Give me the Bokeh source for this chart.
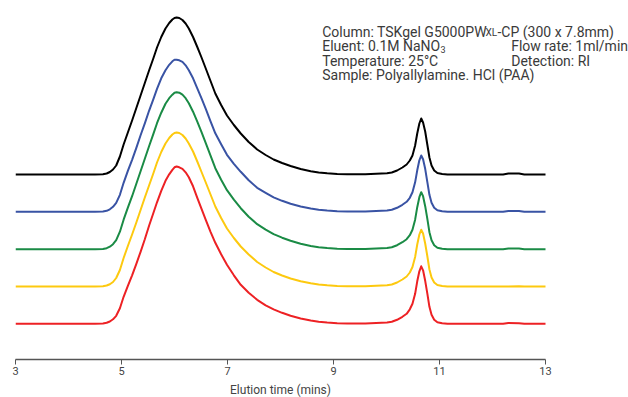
from bokeh.plotting import figure
from bokeh.models import Range1d, FixedTicker, Label
from bokeh.layouts import column
from bokeh.core.properties import value
from bokeh.embed import file_html
from bokeh.resources import INLINE

# ---- data ----
elution_min = [3.0, 4.50, 4.65, 4.72, 4.78, 4.84, 4.90, 4.97, 5.04, 5.12, 5.20, 5.28, 5.36,
               5.44, 5.52, 5.60, 5.67, 5.75, 5.83, 5.90, 5.96, 6.00, 6.04, 6.09, 6.15, 6.21,
               6.27, 6.35, 6.43, 6.51, 6.59, 6.68, 6.77, 6.88, 6.99, 7.12, 7.25, 7.40, 7.56,
               7.72, 7.87, 8.03, 8.19, 8.38, 8.57, 8.72, 8.88, 9.07, 9.26, 9.6, 10.01,
               10.10, 10.20, 10.30, 10.38, 10.44, 10.49, 10.54, 10.58, 10.62, 10.655, 10.69,
               10.73, 10.77, 10.81, 10.85, 10.90, 10.96, 11.05, 11.15, 12.2, 12.3, 12.5, 12.6,
               13.0]

signal_black = [0, 0, 0.3, 1, 2.5, 5, 9, 18, 30, 42, 54, 66.5, 79, 91.5, 104, 116, 127, 137.5,
                146, 151.5, 155, 156.5, 157, 156.5, 154.5, 151, 146, 137.5, 127.5, 117, 106,
                93.5, 81, 69.5, 59, 49.5, 41, 32.5, 25, 19.5, 15, 11.5, 8.5, 5.5, 3.3, 2, 1.2,
                0.5, 0.2, 0.3, 1.2,
                2, 4, 7, 10, 14, 19, 29, 41, 51, 56, 52, 43, 30, 17, 9, 4, 1.5, 0.5, 0, 0, 1, 1, 0,
                0]
signal_blue = [0, 0, 0.3, 1, 2.5, 5, 9, 17, 29, 41, 52, 64, 76.5, 88.5, 101, 112.5, 123, 133.5,
               141.5, 147, 150.5, 152, 152, 151.5, 150, 146.5, 141.5, 133.5, 123.5, 113.5, 103,
               90.5, 78.5, 67.5, 57, 48, 40, 31.5, 24, 19, 14.5, 11, 8, 5.3, 3.2, 2, 1.2,
               0.5, 0.2, 0.3, 1.2,
               2, 4, 7, 10, 14, 19.5, 29.5, 41.5, 51.5, 56.3, 52.5, 43, 30, 17, 9, 4, 1.5, 0.5, 0,
               0, 0.8, 0.8, 0, 0]
signal_green = [0, 0, 0.3, 1, 2.5, 5, 9, 17.5, 29.5, 41.5, 53, 65.5, 78, 90.5, 103, 115, 126,
                136.5, 145.5, 151, 154.5, 156.5, 157, 156.5, 154.5, 151, 146, 137.5, 127.5, 117,
                106, 93.5, 81, 69.5, 59, 49.5, 41, 32.5, 25, 19.5, 15, 11.5, 8.5, 5.5, 3.3, 2,
                1.2, 0.5, 0.2, 0.3, 1.2,
                2, 4, 7, 10, 14, 19.5, 29.5, 42, 52, 57, 53, 43, 30.5, 17, 9, 4, 1.5, 0.5, 0,
                0, 0.7, 0.7, 0, 0]
signal_yellow = [0, 0, 0.3, 1, 2.3, 4.5, 8.5, 16.5, 28.5, 40.5, 52, 64, 76.5, 89, 101, 113, 124,
                 134.5, 143, 148.5, 152, 153.5, 154, 153.5, 151.5, 148, 143, 135, 125, 114.5,
                 104, 92, 80, 68.5, 58, 48.5, 40, 32, 24.5, 19, 14.5, 11, 8, 5.3, 3.2, 2, 1.2,
                 0.5, 0.2, 0.3, 1.2,
                 2, 4, 7, 10, 14, 19.5, 29.5, 42, 52, 56.7, 53, 43, 30.5, 17, 9, 4, 1.5, 0.5, 0,
                 0, 0, 0.3, 0, 0]
signal_red = [0, 0, 0.3, 1, 2.3, 4.5, 8, 15.5, 27, 38, 48.5, 60, 72, 84.5, 98, 110.5, 121.5,
              133, 143, 149.5, 154, 156.5, 157.3, 156.5, 155, 151.5, 146.5, 137.5, 126, 115,
              104, 92, 81, 69.5, 59, 48.5, 39, 31, 24, 18.5, 14.5, 11, 8, 5.3, 3.2, 2, 1.2,
              0.5, 0.2, 0.3, 1.2,
              2, 4, 7, 10, 14.5, 20, 30, 42.5, 52.5, 57.5, 53.5, 43, 30.5, 17, 9, 4, 1.5, 0.5, 0,
              0, 0.8, 0.5, 0, 0]

trace_offsets = [149.3, 112.0, 74.6, 37.3, 0.0]
x_ticks = [3, 5, 7, 9, 11, 13]
x_title = "Elution time (mins)"

traces = [signal_black, signal_blue, signal_green, signal_yellow, signal_red]
colors = ["#000000", "#3953a4", "#1a8b45", "#fdc90f", "#ed2124"]

FONT = "Roboto"
TXT = "#3a3a3a"
X_END = 3 + 613 / 53.0

p = figure(width=628, height=381, output_backend="svg", toolbar_location=None,
           x_range=Range1d(3, X_END), y_range=Range1d(-35.7, 315.3),
           y_axis_location=None,
           min_border_left=15, min_border_right=0, min_border_top=8, min_border_bottom=22)
p.outline_line_color = None
p.grid.visible = False
p.background_fill_color = "white"
p.border_fill_color = "white"

for sig, off, col in zip(traces, trace_offsets, colors):
    p.line(elution_min, [v + off for v in sig], line_color=col, line_width=2,
           line_join="round")

ax = p.xaxis[0]
ax.bounds = (3, 13)
ax.ticker = FixedTicker(ticks=x_ticks)
ax.minor_tick_line_color = None
ax.axis_line_color = "#555555"
ax.axis_line_width = 1.6
ax.major_tick_line_color = "#555555"
ax.major_tick_out = 5
ax.major_tick_in = 0
ax.major_label_standoff = 2
ax.major_label_text_font = FONT
ax.major_label_text_font_size = "11px"
ax.major_label_text_color = "#444444"


def px2x(px):
    return 3 + (px - 15) / 53.0


def py2y(py):
    return 323.3 - py


def lab(x, y, text, size="14px"):
    p.add_layout(Label(x=x, y=y, text=text, text_font=FONT, text_font_size=size,
                       text_color=TXT, text_align="left", text_baseline="alphabetic"))


x0 = px2x(321.7)
x1 = px2x(510.7)
lab(x0, py2y(31.5), "Column: TSKgel G5000PW")
lab(px2x(485), py2y(31.5), "XL", size="10px")
lab(px2x(497), py2y(31.5), "-CP (300 x 7.8mm)")
lab(x0, py2y(45.8), "Eluent: 0.1M NaNO")
lab(px2x(440), py2y(48.5), "3", size="9px")
lab(x1, py2y(45.8), "Flow rate: 1ml/min")
lab(x0, py2y(60.1), "Temperature: 25°C")
lab(x1, py2y(60.1), "Detection: RI")
lab(x0, py2y(74.4), "Sample: Polyallylamine. HCl (PAA)")

# strip under the chart holding the x-axis title, centred under the 3..13 span
p2 = figure(width=628, height=16, output_backend="svg", toolbar_location=None,
            x_range=p.x_range, y_range=Range1d(0, 16),
            x_axis_location=None, y_axis_location=None,
            min_border_left=15, min_border_right=0, min_border_top=0, min_border_bottom=0)
p2.outline_line_color = None
p2.grid.visible = False
p2.background_fill_color = "white"
p2.border_fill_color = "white"
p2.text(x=[(x_ticks[0] + x_ticks[-1]) / 2], y=[8.0], text=[x_title],
        text_font=value(FONT), text_font_size="12px", text_color="#444444",
        text_align="center", text_baseline="middle")

layout = column(p, p2, spacing=0)
open("out.html", "w").write(file_html(layout, INLINE))
